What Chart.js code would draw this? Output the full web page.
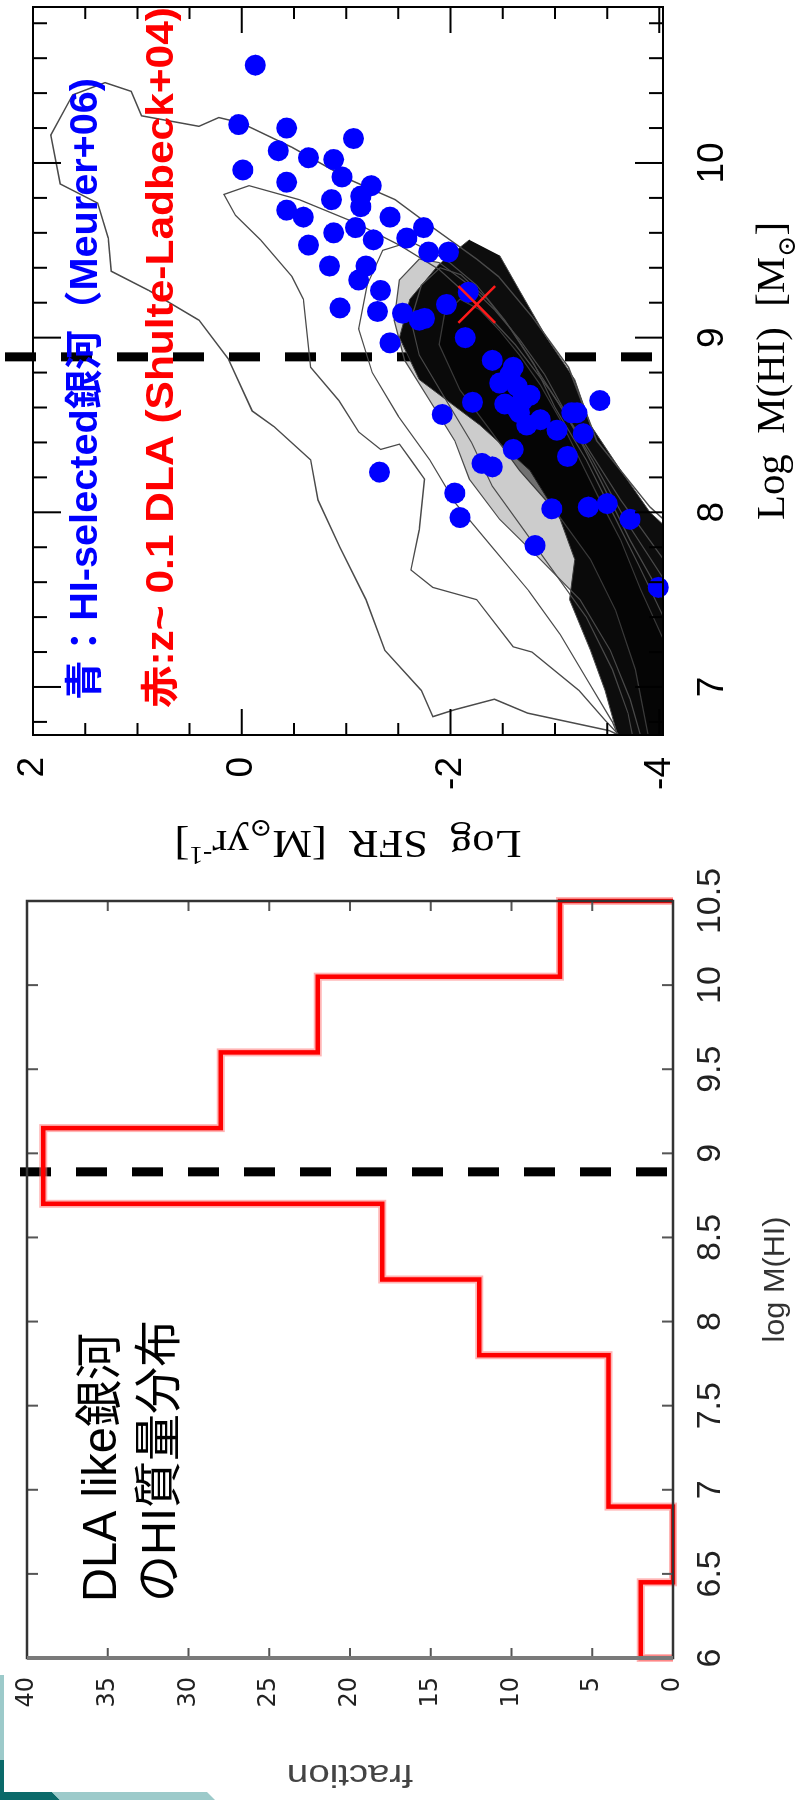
<!DOCTYPE html>
<html>
<head>
<meta charset="utf-8">
<title>HI mass vs SFR / DLA-like galaxies</title>
<script src="https://cdn.jsdelivr.net/npm/chart.js@4.4.1/dist/chart.umd.min.js"></script>
<style>
  html, body { margin: 0; padding: 0; background: #fff; width: 795px; height: 1800px; overflow: hidden; }
  #page { position: relative; width: 795px; height: 1800px; overflow: hidden; background: #fff; }
  /* both panels are drawn upright and turned a quarter turn, like the slide */
  .rot { position: absolute; left: 0; transform-origin: 0 0; transform: rotate(-90deg); }
  #scatterCanvas { top: 880px; }
  #histCanvas { top: 1800px; }
  .deco { position: absolute; }
</style>
</head>
<body>
<div id="page">
  <canvas id="scatterCanvas" class="rot" width="880" height="795"></canvas>
  <canvas id="histCanvas" class="rot" width="940" height="795"></canvas>
  <div class="deco" style="left:0;top:1675px;width:4px;height:85px;background:#9ccaca"></div>
  <div class="deco" style="left:0;top:1760px;width:4px;height:40px;background:#0b6a6a"></div>
  <div class="deco" style="left:0;top:1792px;width:60px;height:8px;background:#0b6a6a;clip-path:polygon(0 0,52px 0,60px 100%,0 100%)"></div>
  <div class="deco" style="left:50px;top:1792px;width:165px;height:8px;background:#9ccaca;clip-path:polygon(2px 0,157px 0,165px 100%,10px 100%)"></div>
</div>
<script>
// HI-selected galaxies (Meurer+06): log M(HI) and log SFR
const hiMass = [10.56, 10.22, 10.20, 10.07, 10.14, 10.03, 10.02, 9.92, 9.96, 9.89,
  9.87, 9.81, 9.79, 9.75, 9.73, 9.69, 9.69, 9.63, 9.63, 9.60,
  9.57, 9.56, 9.53, 9.49, 9.49, 9.41, 9.41, 9.33, 9.27, 9.17,
  9.15, 9.14, 9.11, 9.19, 9.26, 8.97, 9.00, 9.10, 8.87, 8.83,
  8.72, 8.74, 8.64, 8.57, 8.63, 8.56, 8.64, 8.57, 8.47, 8.45,
  8.32, 8.36, 8.28, 8.26, 8.11, 7.97, 8.02, 8.03, 8.05, 7.96,
  7.81, 8.23, 7.57, 8.59, 8.57, 8.62, 8.67, 8.79, 8.50, 8.53];
const hiSfr = [-0.13, 0.03, -0.43, -0.35, -1.07, -0.64, -0.88, -0.96, -0.01, -0.43,
  -1.24, -1.14, -0.86, -1.14, -0.43, -0.59, -1.42, -1.74, -1.09, -0.88,
  -1.58, -1.26, -0.64, -1.79, -1.98, -0.84, -1.19, -1.12, -1.33, -0.94,
  -1.30, -1.54, -1.75, -1.96, -2.17, -1.42, -2.14, -1.70, -2.40, -2.60,
  -2.64, -2.47, -2.69, -2.66, -2.21, -1.92, -3.43, -3.21, -3.02, -3.27,
  -3.12, -2.60, -2.30, -2.40, -2.04, -2.09, -2.97, -3.32, -3.50, -3.72,
  -2.81, -1.32, -3.99, -2.64, -3.16, -2.52, -2.76, -2.57, -2.73, -2.86];

// z~0.1 DLA (Shulte-Ladbeck+04)
const dlaMass = [9.19];
const dlaSfr = [-2.25];

// simulated galaxies: density contours as [log M(HI), log SFR]
const contourOuter = [[7.96,-4.04],[8.03,-3.91],[8.41,-3.40],[8.83,-3.13],[9.12,-2.78],[9.35,-2.46],
  [9.45,-2.25],[9.63,-1.83],[9.79,-1.47],[9.90,-1.05],[10.09,-0.48],[10.23,0.01],[10.26,0.22],
  [10.21,0.41],[10.27,0.96],[10.41,1.06],[10.46,1.31],[10.39,1.62],[10.16,1.83],[9.88,1.74],
  [9.77,1.38],[9.57,1.28],[9.38,1.25],[9.27,0.89],[9.10,0.41],[8.88,0.13],[8.58,-0.10],
  [8.49,-0.31],[8.30,-0.66],[8.07,-0.73],[7.80,-0.94],[7.50,-1.19],[7.21,-1.37],[6.98,-1.72],
  [6.83,-1.83],[6.87,-2.04],[6.93,-2.42],[6.85,-2.74],[6.75,-3.52],[6.70,-3.70]];
const contourSecond = [[7.73,-4.04],[8.07,-3.63],[8.39,-3.29],[8.70,-2.95],[8.96,-2.62],[9.19,-2.26],
  [9.39,-1.89],[9.53,-1.51],[9.66,-1.08],[9.79,-0.55],[9.87,-0.07],[9.82,0.17],[9.70,0.06],
  [9.56,-0.18],[9.35,-0.48],[9.22,-0.59],[8.83,-0.66],[8.64,-0.93],[8.46,-1.12],[8.36,-1.33],
  [8.39,-1.51],[8.30,-1.62],[8.19,-1.75],[7.90,-1.70],[7.67,-1.62],[7.57,-1.83],[7.50,-2.25],
  [7.23,-2.60],[7.20,-2.78],[6.98,-3.23],[6.81,-3.48],[6.70,-3.65]];
const contourMidA = [[7.62,-4.04],[7.95,-3.68],[8.30,-3.36],[8.62,-3.04],[8.88,-2.76],[9.10,-2.52],
  [9.30,-2.25],[9.45,-1.95],[9.55,-1.62],[9.50,-1.35],[9.30,-1.20],[9.05,-1.12],[8.80,-1.25],
  [8.55,-1.50],[8.30,-1.80],[8.05,-2.05],[7.80,-2.40],[7.55,-2.75],[7.30,-3.05],[7.05,-3.30],
  [6.80,-3.55],[6.70,-3.62]];
const contourMidB = [[7.40,-4.04],[7.70,-3.80],[8.00,-3.55],[8.30,-3.30],[8.60,-3.00],[8.85,-2.80],
  [9.05,-2.58],[9.22,-2.35],[9.36,-2.10],[9.40,-1.90],[9.30,-1.72],[9.10,-1.62],[8.90,-1.70],
  [8.65,-1.95],[8.40,-2.20],[8.15,-2.40],[7.90,-2.70],[7.65,-3.00],[7.40,-3.30],[7.10,-3.55],
  [6.85,-3.70],[6.70,-3.75]];
const contourThird = [[7.50,-4.04],[7.84,-3.72],[8.19,-3.43],[8.53,-3.14],[8.79,-2.90],[8.99,-2.66],
  [9.16,-2.42],[9.30,-2.18],[9.43,-1.89],[9.45,-1.70],[9.33,-1.51],[9.10,-1.46],[8.87,-1.56],
  [8.64,-1.80],[8.41,-2.04],[8.19,-2.18],[7.96,-2.47],[7.73,-2.86],[7.50,-3.24],[7.21,-3.53],
  [6.93,-3.72],[6.70,-3.83],[6.60,-4.20]];
const contourFourth = [[7.27,-4.04],[7.56,-3.82],[7.84,-3.63],[8.07,-3.43],[8.30,-3.24],[8.53,-3.05],
  [8.73,-2.86],[8.90,-2.66],[9.04,-2.47],[9.16,-2.28],[9.22,-2.09],[9.13,-1.94],[8.96,-1.89],
  [8.70,-2.09],[8.47,-2.38],[8.24,-2.66],[8.01,-3.00],[7.73,-3.34],[7.44,-3.58],[7.10,-3.77],
  [6.70,-3.90],[6.60,-4.20]];
const contourCore = [[9.56,-2.18],[9.42,-1.89],[9.22,-1.61],[9.00,-1.51],[8.76,-1.70],[8.50,-2.28],
  [8.24,-2.76],[7.96,-3.05],[7.73,-3.19],[7.50,-3.14],[7.21,-3.34],[6.98,-3.48],[6.70,-3.61],
  [6.60,-4.20],[7.84,-4.20],[8.00,-3.91],[8.24,-3.63],[8.50,-3.34],[8.76,-3.19],[9.00,-2.92],
  [9.27,-2.66],[9.47,-2.47]];

// axis ticks and the dashed DLA mass cut
const massTicks = [7, 8, 9, 10];
const sfrTicks = [-4, -2, 0, 2];
const dlaCut = 8.89;

// histogram of DLA-like galaxies
const binEdges = [6.0, 6.45, 6.9, 7.35, 7.8, 8.25, 8.7, 9.15, 9.6, 10.05, 10.5];
const fractions = [2, 0, 4, 4, 12, 18, 39, 28, 22, 7];
const histMassTicks = [6, 6.5, 7, 7.5, 8, 8.5, 9, 9.5, 10, 10.5];
const fractionTicks = [0, 5, 10, 15, 20, 25, 30, 35, 40];

const SANS = '"Liberation Sans", "Noto Sans CJK JP", sans-serif';
const SERIF = '"Liberation Serif", "DejaVu Serif", serif';

function fitText(ctx, text, x, y, width, font, color) {
  ctx.save();
  ctx.font = font;
  ctx.fillStyle = color;
  ctx.textBaseline = 'middle';
  ctx.textAlign = 'left';
  const w = ctx.measureText(text).width;
  ctx.translate(x, y);
  ctx.scale(width / w, 1);
  ctx.fillText(text, 0, 0);
  ctx.restore();
}

// parts: [text, 0 normal | 1 subscript | 2 superscript]
function richTitle(ctx, parts, cx, cy, size, family, color, width, angle) {
  ctx.save();
  ctx.translate(cx, cy);
  ctx.rotate(angle || 0);
  ctx.fillStyle = color;
  ctx.textBaseline = 'alphabetic';
  ctx.textAlign = 'left';
  const fontOf = k => (k ? Math.round(size * 0.62) : size) + 'px ' + family;
  const widths = parts.map(([t, k]) => { ctx.font = fontOf(k); return ctx.measureText(t).width; });
  const total = widths.reduce((s, w) => s + w, 0);
  ctx.scale(width ? width / total : 1, 1);
  let x = -total / 2;
  parts.forEach(([t, k], i) => {
    ctx.font = fontOf(k);
    const dy = k === 1 ? size * 0.28 : k === 2 ? -size * 0.4 : 0;
    ctx.fillText(t, x, size * 0.35 + dy);
    x += widths[i];
  });
  ctx.restore();
}

// pin the axis boxes so the plot area lands where it is on the slide
function pinScale(size) {
  return s => {
    if (s.isHorizontal()) s.height = size; else s.width = size;
    s.paddingLeft = s.paddingRight = s.paddingTop = s.paddingBottom = 0;
  };
}

function dashedCut(chart, above, below) {
  const { ctx, chartArea: a, scales: { x } } = chart;
  const px = x.getPixelForValue(dlaCut);
  ctx.save();
  ctx.strokeStyle = '#000';
  ctx.lineWidth = 9;
  ctx.setLineDash([31, 25]);
  ctx.beginPath();
  ctx.moveTo(px, a.top - above);
  ctx.lineTo(px, a.bottom - below);
  ctx.stroke();
  ctx.restore();
}

const scatterDecor = {
  id: 'scatterDecor',
  beforeDatasetsDraw(chart) { dashedCut(chart, 28, 3); },
  afterDatasetsDraw(chart) {
    const { ctx, chartArea: a, scales: { x, y } } = chart;
    ctx.save();
    ctx.strokeStyle = '#000';
    ctx.lineWidth = 2;
    ctx.beginPath();
    for (let k = 34; k <= 54; k++) {          // every 0.2 dex in M(HI)
      const px = x.getPixelForValue(k / 5);
      const len = k % 5 === 0 ? 28 : 14;
      ctx.moveTo(px, a.bottom); ctx.lineTo(px, a.bottom - len);
      ctx.moveTo(px, a.top); ctx.lineTo(px, a.top + len);
    }
    for (let k = -8; k <= 4; k++) {           // every 0.5 dex in SFR
      const py = y.getPixelForValue(k / 2);
      const len = k % 4 === 0 ? 26 : 12;
      ctx.moveTo(a.left, py); ctx.lineTo(a.left + len, py);
      ctx.moveTo(a.right, py); ctx.lineTo(a.right - len, py);
    }
    ctx.stroke();
    ctx.strokeRect(a.left, a.top, a.right - a.left, a.bottom - a.top);
    ctx.restore();

    fitText(ctx, '青：HI-selected銀河（Meurer+06)', a.left + 35, a.top + 54, 622, 'bold 38px ' + SANS, '#0000ff');
    fitText(ctx, '赤:z~ 0.1 DLA (Shulte-Ladbeck+04)', a.left + 27, a.top + 130, 701, 'bold 38px ' + SANS, '#ff0000');
  },
  afterDraw(chart) {
    const { ctx, chartArea: a } = chart;
    richTitle(ctx, [['Log  M(HI)  [M', 0], ['⊙', 1], [']', 0]],
      (a.left + a.right) / 2, a.bottom + 107, 40, SERIF, '#000', 298);
    richTitle(ctx, [['Log  SFR  [M', 0], ['⊙', 1], ['yr', 0], ['-1', 2], [']', 0]],
      a.left - 110, (a.top + a.bottom) / 2, 40, SERIF, '#000', 347, -Math.PI / 2);
  }
};

const histDecor = {
  id: 'histDecor',
  beforeDatasetsDraw(chart) { dashedCut(chart, 7, 5); },
  afterDatasetsDraw(chart) {
    const { ctx, chartArea: a, scales: { x, y } } = chart;
    ctx.save();
    ctx.strokeStyle = '#555';
    ctx.lineWidth = 2;
    ctx.beginPath();
    histMassTicks.forEach(v => {
      const px = x.getPixelForValue(v);
      ctx.moveTo(px, a.bottom); ctx.lineTo(px, a.bottom - 11);
      ctx.moveTo(px, a.top); ctx.lineTo(px, a.top + 11);
    });
    fractionTicks.forEach(v => {
      const py = y.getPixelForValue(v);
      ctx.moveTo(a.left, py); ctx.lineTo(a.left + 10, py);
      ctx.moveTo(a.right, py); ctx.lineTo(a.right - 10, py);
    });
    ctx.stroke();
    ctx.strokeStyle = '#333';
    ctx.lineWidth = 2.5;
    ctx.strokeRect(a.left, a.top, a.right - a.left, a.bottom - a.top);
    ctx.strokeStyle = '#7a7a7a';
    ctx.lineWidth = 4;
    ctx.beginPath();
    ctx.moveTo(a.left, a.top); ctx.lineTo(a.left, a.bottom);
    ctx.stroke();
    ctx.restore();

    fitText(ctx, 'DLA like銀河', a.left + 56, a.top + 76, 269, '48px ' + SANS, '#000');
    fitText(ctx, 'のHI質量分布', a.left + 56, a.top + 135, 282, '48px ' + SANS, '#000');
  },
  afterDraw(chart) {
    const { ctx, chartArea: a } = chart;
    richTitle(ctx, [['log M(HI)', 0]], (a.left + a.right) / 2, a.bottom + 100, 30, SANS, '#333', 126);
    richTitle(ctx, [['fraction', 0]], a.left - 118, (a.top + a.bottom) / 2, 32, SANS, '#444', 126, -Math.PI / 2);
  }
};

const contourSet = (pts, width, fillColor, order) => ({
  data: pts.map(([m, s]) => ({ x: m, y: s })),
  showLine: true,
  pointRadius: 0,
  borderColor: '#4a4a4a',
  borderWidth: width,
  fill: fillColor ? 'shape' : false,
  backgroundColor: fillColor || 'rgba(0,0,0,0)',
  clip: 0,
  order: order
});

new Chart(document.getElementById('scatterCanvas'), {
  type: 'scatter',
  data: {
    datasets: [
      {
        data: dlaMass.map((m, i) => ({ x: m, y: dlaSfr[i] })),
        pointStyle: 'crossRot',
        pointRadius: 26,
        borderColor: '#ff1a1a',
        borderWidth: 2.5,
        clip: false,
        order: 0
      },
      {
        data: hiMass.map((m, i) => ({ x: m, y: hiSfr[i] })),
        pointStyle: 'circle',
        pointRadius: 10.5,
        backgroundColor: '#0000ff',
        borderWidth: 0,
        clip: false,
        order: 1
      },
      contourSet(contourOuter, 1.5, null, 3),
      contourSet(contourSecond, 1.3, null, 3),
      contourSet(contourMidA, 1.2, null, 3),
      contourSet(contourMidB, 1.2, null, 3),
      contourSet(contourThird, 1.2, 'rgba(0,0,0,0.2)', 4),
      contourSet(contourFourth, 1.2, 'rgba(0,0,0,0.45)', 5),
      contourSet(contourCore, 1, '#0d0d0d', 6)
    ]
  },
  options: {
    responsive: false,
    animation: false,
    devicePixelRatio: 1,
    layout: { autoPadding: false, padding: { left: 0, right: 7, top: 33, bottom: 0 } },
    plugins: { legend: { display: false }, tooltip: { enabled: false } },
    scales: {
      x: {
        type: 'linear', min: 6.725, max: 10.893,
        afterBuildTicks: s => { s.ticks = massTicks.map(v => ({ value: v })); },
        afterFit: pinScale(132),
        grid: { display: false, drawTicks: false },
        border: { display: false },
        ticks: { autoSkip: false, maxRotation: 0, padding: 28, color: '#000',
          font: { family: SANS, size: 37 }, callback: v => String(v) }
      },
      y: {
        type: 'linear', min: -4.035, max: 2.0,
        afterBuildTicks: s => { s.ticks = sfrTicks.map(v => ({ value: v })); },
        afterFit: pinScale(145),
        grid: { display: false, drawTicks: false },
        border: { display: false },
        ticks: { autoSkip: false, padding: 22, color: '#000',
          font: { family: SANS, size: 37 }, callback: v => String(v) }
      }
    }
  },
  plugins: [scatterDecor]
});

// histogram outline built from the bin edges and fractions
const stepPoints = [{ x: binEdges[0], y: 0 }];
fractions.forEach((f, i) => {
  stepPoints.push({ x: binEdges[i], y: f });
  stepPoints.push({ x: binEdges[i + 1], y: f });
});
stepPoints.push({ x: binEdges[binEdges.length - 1], y: 0 });

new Chart(document.getElementById('histCanvas'), {
  type: 'scatter',
  data: {
    datasets: [
      { data: stepPoints, showLine: true, pointRadius: 0, borderColor: '#ff0000',
        borderWidth: 4.5, clip: false, order: 0 },
      { data: stepPoints, showLine: true, pointRadius: 0, borderColor: 'rgba(255,120,120,0.55)',
        borderWidth: 8, clip: false, order: 1 }
    ]
  },
  options: {
    responsive: false,
    animation: false,
    devicePixelRatio: 1,
    layout: { autoPadding: false, padding: { left: 0, right: 41, top: 27, bottom: 0 } },
    plugins: { legend: { display: false }, tooltip: { enabled: false } },
    scales: {
      x: {
        type: 'linear', min: 6, max: 10.5,
        afterBuildTicks: s => { s.ticks = histMassTicks.map(v => ({ value: v })); },
        afterFit: pinScale(122),
        grid: { display: false, drawTicks: false },
        border: { display: false },
        ticks: { autoSkip: false, maxRotation: 0, padding: 17, color: '#222',
          font: { family: '"Liberation Sans Narrow", "Liberation Sans", sans-serif', size: 34 },
          callback: v => String(v) }
      },
      y: {
        type: 'linear', min: 0, max: 40,
        afterBuildTicks: s => { s.ticks = fractionTicks.map(v => ({ value: v })); },
        afterFit: pinScale(142),
        grid: { display: false, drawTicks: false },
        border: { display: false },
        ticks: { autoSkip: false, padding: 19, color: '#222',
          font: { family: '"DejaVu Sans", sans-serif', size: 24 }, callback: v => String(v) }
      }
    }
  },
  plugins: [histDecor]
});
</script>
</body>
</html>
